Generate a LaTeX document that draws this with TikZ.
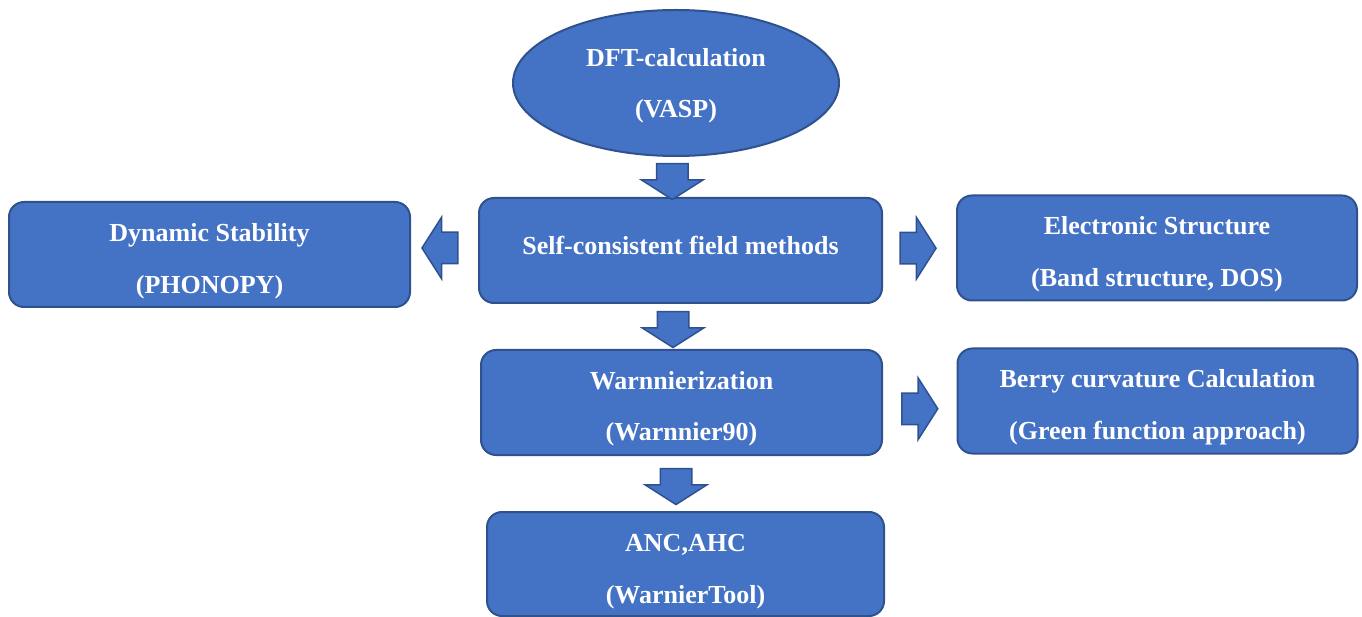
\documentclass[tikz,border=0pt]{standalone}
\usepackage{fontspec}
\setmainfont{Liberation Serif}
\usetikzlibrary{shapes.geometric, shapes.arrows, calc, positioning}
\definecolor{FlowBlue}{HTML}{4472C4}
\definecolor{FlowNavy}{HTML}{2F528F}
% two centred lines, the first one given a taller strut
\newcommand{\stagelines}[3][30.5pt]{\rule{0pt}{#1}#2\\#3}
\tikzset{
  stagebox/.style={draw=FlowNavy, line width=2pt, fill=FlowBlue, rounded corners=15pt,
    text=white, align=center, font=\bfseries\fontsize{26}{51.5}\selectfont,
    minimum width=401pt, minimum height=105pt, inner sep=0pt},
  stageellipse/.style={ellipse, draw=FlowNavy, line width=2pt, fill=FlowBlue,
    text=white, align=center, font=\bfseries\fontsize{26}{51.5}\selectfont,
    minimum width=326pt, minimum height=146pt, inner sep=0pt},
  blockarrow/.style={single arrow, draw=FlowNavy, line width=1.5pt, fill=FlowBlue,
    minimum height=36pt, inner xsep=0pt, inner ysep=15pt,
    single arrow head extend=15pt, single arrow tip angle=115},
  downarrow/.style={blockarrow, shape border rotate=270, inner xsep=15pt, inner ysep=0pt}
}
\begin{document}
\begin{tikzpicture}[x=1pt, y=-1pt]
            \useasboundingbox (0,0) rectangle (1362,617);
            \node[stageellipse] (dft) at (676,83) {\stagelines[24pt]{DFT-calculation}{(VASP)}};
            \node[stagebox, minimum width=403pt] (scf) at (680.5,250.5) {Self-consistent field methods\rule[-10pt]{0pt}{10pt}};
            \node[stagebox] (dyn) at (209.5,254.5) {\stagelines[32pt]{Dynamic Stability}{(PHONOPY)}};
            \node[stagebox, minimum width=400pt] (elec) at (1157,248) {\stagelines{Electronic Structure}{(Band structure, DOS)}};
            \node[stagebox] (warn) at (681.5,402.5) {\stagelines{Warnnierization}{(Warnnier90)}};
            \node[stagebox, minimum width=400pt] (berry) at (1157.5,401) {\stagelines{Berry curvature Calculation}{(Green function approach)}};
            \node[stagebox, minimum width=397pt, minimum height=104pt] (anc) at (685.5,564) {\stagelines[32.5pt]{ANC,AHC}{(WarnierTool)}};
            % block arrows between the stages
            \node[downarrow, xshift=-6pt, yshift=0.5pt] at ($(dft.south)!0.5!(scf.north)$) {};
            \node[downarrow, xshift=-8pt, yshift=2pt] at ($(scf.south)!0.5!(warn.north)$) {};
            \node[downarrow, xshift=-7.5pt, yshift=2pt] at ($(warn.south)!0.5!(anc.north)$) {};
            \node[blockarrow, shape border rotate=180, xshift=0.5pt, yshift=4.5pt] at ($(dyn.east)!0.5!(scf.west)$) {};
            \node[blockarrow, xshift=-6.5pt, yshift=1pt] at ($(scf.east)!0.5!(elec.west)$) {};
            \node[blockarrow, xshift=-5pt, yshift=-7pt] at ($(warn.east)!0.5!(berry.west)$) {};
         \end{tikzpicture}
\end{document}
